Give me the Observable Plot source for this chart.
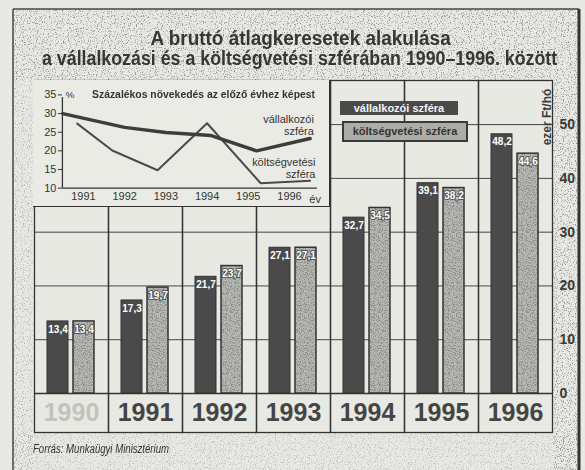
<!DOCTYPE html>
<html>
<head>
<meta charset="utf-8">
<script src="https://cdn.jsdelivr.net/npm/d3@7"></script>
<script src="https://cdn.jsdelivr.net/npm/@observablehq/plot@0.6"></script>
<style>
  html, body { margin:0; padding:0; background:#e9e9e4; }
  #wrap { position:relative; width:585px; height:470px; overflow:hidden;
          font-family:"Liberation Sans", Arial, sans-serif; color:#333; }
  .abs { position:absolute; white-space:nowrap; }
  .tl { font-weight:bold; font-size:20px; line-height:20px; color:#363636; transform-origin:50% 50%; }
  .leg { font-weight:bold; font-size:11px; box-sizing:border-box; text-align:center; }
  #leg1 { left:340px; top:101px; width:118px; height:14px; line-height:14px; background:#4a4a4a; color:#f2f2f2; }
  #leg2 { left:342px; top:121px; width:126px; height:21px; line-height:17px; background:#adada8; color:#333; border:2px solid #3a3a3a; }
  #unit { left:547px; top:117px; transform:translate(-50%,-50%) rotate(-90deg); font-weight:bold; font-size:12px; color:#3a3a3a; }
  #source { left:33px; top:442px; font-style:italic; font-size:12px; color:#333; transform-origin:0 50%; }
  #inset { left:33px; top:80px; width:297px; height:127px; background:#ebebe6; box-sizing:border-box; border-right:1.5px solid #333; border-bottom:1.5px solid #333; }
  #insetTitle { left:92px; top:88px; font-weight:bold; font-size:11px; color:#333; transform-origin:0 50%; }
</style>
</head>
<body>
<div id="wrap">
  <svg class="abs" style="left:0;top:0" width="585" height="470">
    <defs>
      <filter id="grain" x="0" y="0" width="100%" height="100%">
        <feTurbulence type="fractalNoise" baseFrequency="0.85" numOctaves="2" seed="3"/>
        <feColorMatrix type="matrix" values="0 0 0 0 0.3  0 0 0 0 0.3  0 0 0 0 0.3  5 0 0 0 -2.7"/>
      </filter>
    </defs>
    <rect width="585" height="470" fill="#e9e9e4"/>
    <rect x="13" y="9" width="565" height="71" filter="url(#grain)"/>
    <rect x="13" y="80" width="20" height="390" filter="url(#grain)" opacity="0.6"/>
    <rect x="553" y="80" width="25" height="390" filter="url(#grain)"/>
    <rect x="13" y="432" width="565" height="38" filter="url(#grain)" opacity="0.5"/>
    <line x1="13" y1="9" x2="13" y2="470" stroke="#444" stroke-width="1.5"/>
    <line x1="13" y1="9" x2="579" y2="9" stroke="#444" stroke-width="1.5"/>
    <line x1="579" y1="9" x2="579" y2="470" stroke="#333" stroke-width="3"/>
  </svg>
  <div id="main" class="abs" style="left:0;top:0"></div>
  <div id="inset" class="abs"></div>
  <div id="insetTitle" class="abs">Százalékos növekedés az előző évhez képest</div>
  <div id="t1" class="abs tl">A bruttó átlagkeresetek alakulása</div>
  <div id="t2" class="abs tl">a vállalkozási és a költségvetési szférában 1990–1996. között</div>
  <div id="leg1" class="abs leg">vállalkozói szféra</div>
  <div id="leg2" class="abs leg">költségvetési szféra</div>
  <div id="unit" class="abs">ezer Ft/hó</div>
  <div id="source" class="abs">Forrás: Munkaügyi Minisztérium</div>
</div>
<script>
// ---- data ----
const years = ["1990","1991","1992","1993","1994","1995","1996"];
const seriesNames = ["vállalkozói szféra","költségvetési szféra"];
const vallalkozoi = [13.4,17.3,21.7,27.1,32.7,39.1,48.2];
const koltsegvetesi = [13.4,19.7,23.7,27.1,34.5,38.2,44.6];
const yTicks = [0,10,20,30,40,50];

const pctTicks = [10,15,20,25,30,35];
const pctYears = [1991,1992,1993,1994,1995,1996];
const growthVallX = [1990.5,1992,1993,1994.1,1995.2,1996.5];
const growthVall  = [30,26.3,24.9,24.1,20,23.3];
const growthKoltX = [1990.85,1991.7,1992.8,1994,1995.3,1996.5];
const growthKolt  = [27.3,20.1,14.8,27.4,11.3,12];
const lineLabels = [
  {text:"vállalkozói\nszféra", x:1996.59, y:27},
  {text:"költségvetési\nszféra", x:1996.63, y:15.3}
];

const FONT = '"Liberation Sans", Arial, sans-serif';

// fit helper for HTML texts (horizontal condensing, like the original narrow type)
function fit(id, width, cx, cy) {
  const el = document.getElementById(id);
  const w = el.offsetWidth, h = el.offsetHeight;
  const s = Math.min(1, width / w);
  if (cx !== undefined) {
    el.style.left = (cx - w/2) + "px";
    el.style.top = (cy - h/2) + "px";
  }
  el.style.transform = `scaleX(${s})`;
}
fit("t1", 300, 300, 38);
fit("t2", 515, 299, 58);
fit("insetTitle", 223);
fit("source", 136);

const data = years.flatMap((yr,i)=>[
  {year:yr, series:seriesNames[0], value:vallalkozoi[i]},
  {year:yr, series:seriesNames[1], value:koltsegvetesi[i]}
]);
const dataV = data.filter(d=>d.series===seriesNames[0]);
const dataK = data.filter(d=>d.series===seriesNames[1]);
const fmt = v => v.toFixed(1).replace(".",",");

const main = Plot.plot({
  width:585, height:470,
  marginTop:80, marginBottom:38, marginLeft:33, marginRight:32,
  style:{background:"transparent", fontFamily:FONT, color:"#333", overflow:"visible"},
  fx:{domain:years, padding:0, axis:null},
  x:{domain:seriesNames, paddingInner:0.19, paddingOuter:0.47, axis:null},
  y:{domain:[-7.25,58.2], axis:null},
  marks:[
    Plot.ruleY([10,20,30,40,50],{stroke:"#444", strokeWidth:1}),
    Plot.ruleY([0],{stroke:"#333", strokeWidth:1.5}),
    Plot.barY(dataV,{fx:"year", x:"series", y:"value", fill:"#4a4a4a", stroke:"#333", strokeWidth:1}),
    Plot.barY(dataK,{fx:"year", x:"series", y:"value", fill:"url(#speck)", stroke:"#333", strokeWidth:1.5}),
    Plot.text(dataV,{fx:"year", x:"series", y:"value", text:d=>fmt(d.value), dy:8, fill:"white", fontWeight:"bold", fontSize:10}),
    Plot.text(dataK,{fx:"year", x:"series", y:"value", text:d=>fmt(d.value), dy:8, fill:"white", stroke:"#555", strokeWidth:2, fontWeight:"bold", fontSize:10}),
    Plot.text(years.filter(y=>y!=="1990"),{fx:d=>d, y:-3.6, text:d=>d, fontSize:25, fontWeight:"bold", fill:"#454545"}),
    Plot.text(["1990"],{fx:d=>d, y:-3.6, text:d=>d, fontSize:25, fontWeight:"bold", fill:"#c2c2bc"}),
    Plot.frame({stroke:"#333", strokeWidth:1.3}),
    Plot.axisY(yTicks,{anchor:"right", label:null, tickSize:0, tickPadding:7, fontSize:14, fontWeight:"bold", fill:"#3a3a3a"})
  ]
});
// speckle pattern for the light bars
const ns = "http://www.w3.org/2000/svg";
const defs = document.createElementNS(ns,"defs");
defs.innerHTML = `
  <filter id="grain2" x="0" y="0" width="100%" height="100%">
    <feTurbulence type="fractalNoise" baseFrequency="0.75" numOctaves="2" seed="7"/>
    <feColorMatrix type="matrix" values="0 0 0 0 0.25  0 0 0 0 0.25  0 0 0 0 0.25  6 0 0 0 -2.9"/>
  </filter>
  <pattern id="speck" patternUnits="userSpaceOnUse" width="80" height="80">
    <rect width="80" height="80" fill="#b8b8b3"/>
    <rect width="80" height="80" filter="url(#grain2)"/>
  </pattern>`;
main.insertBefore(defs, main.firstChild);
document.getElementById("main").appendChild(main);

// ---- inset line chart ----
const vallLine = growthVallX.map((x,i)=>({x, y:growthVall[i]}));
const koltLine = growthKoltX.map((x,i)=>({x, y:growthKolt[i]}));
const xMin = 1990.49;
const inset = Plot.plot({
  width:297, height:127,
  marginTop:14.5, marginBottom:19, marginLeft:29, marginRight:12,
  style:{background:"transparent", fontFamily:FONT, color:"#333", overflow:"visible"},
  x:{domain:[xMin,1996.68], axis:null},
  y:{domain:[10,35], axis:null},
  marks:[
    Plot.ruleY([10],{stroke:"#333", strokeWidth:1.3}),
    Plot.ruleX([xMin],{y1:10, y2:34.3, stroke:"#333", strokeWidth:1.3}),
    Plot.axisY(pctTicks,{anchor:"left", label:null, tickSize:4, tickPadding:2, fontSize:11, stroke:"#333"}),
    Plot.axisX(pctYears,{anchor:"bottom", label:null, tickSize:0, tickPadding:4, fontSize:11, tickFormat:d=>String(d)}),
    Plot.text(["%"],{x:xMin, y:35, dx:3, textAnchor:"start", fontSize:10}),
    Plot.text(["év"],{x:1996.48, y:10, dy:11, textAnchor:"start", fontSize:11}),
    Plot.line(koltLine,{x:"x", y:"y", stroke:"#4a4a4a", strokeWidth:2}),
    Plot.line(vallLine,{x:"x", y:"y", stroke:"#3d3d3d", strokeWidth:3.5}),
    Plot.text(lineLabels,{x:"x", y:"y", text:"text", textAnchor:"end", fontSize:11, lineHeight:1.1, fill:"#333"})
  ]
});
document.getElementById("inset").appendChild(inset);
</script>
</body>
</html>
